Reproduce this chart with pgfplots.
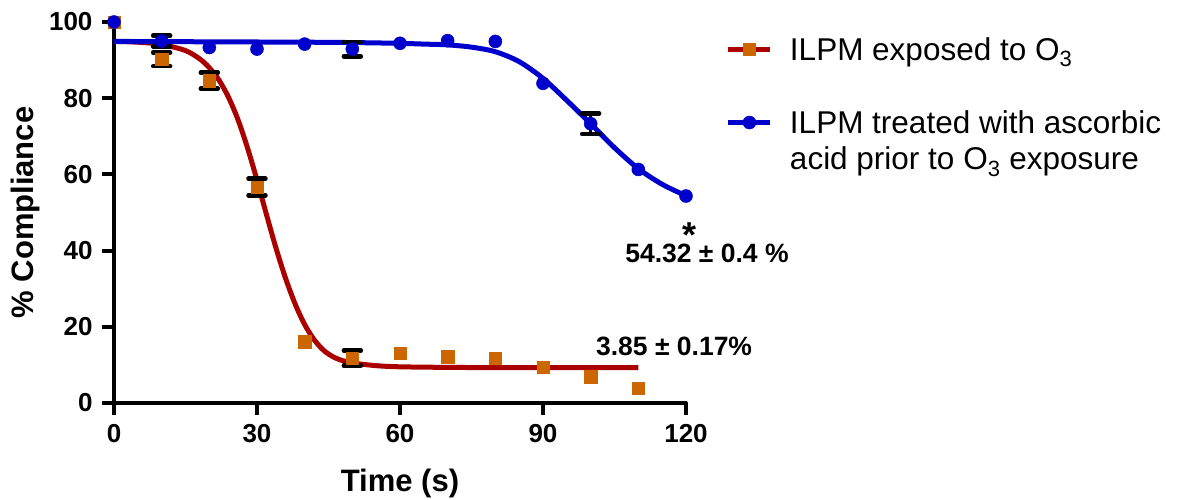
\documentclass[border=0pt]{standalone}
\usepackage{pgfplots}
\usepackage{pgfplotstable}
\pgfplotsset{compat=1.18}
\usepackage{fontspec}
\setmainfont{Liberation Sans}

\definecolor{fitred}{RGB}{170,0,0}
\definecolor{ptorange}{RGB}{204,102,0}
\definecolor{ptblue}{RGB}{0,0,204}

% ILPM exposed to O3: mean compliance (%)
\pgfplotstableread{
x y
0 100
10 90.2
20 84.6
30 56.7
40 16.1
50 11.8
60 13.0
70 12.1
80 11.8
90 9.4
100 6.9
110 3.85
}\exposedpts

% points of that series that carry an error bar
\pgfplotstableread{
x y e
10 90.2 1.8
20 84.6 2.1
30 56.7 2.2
50 11.8 2.0
}\exposederr

% sigmoidal fit, exposed
\pgfplotstableread{
x y
0 94.9
5 94.7
10 94.1
15 92.5
18 90.3
20 88.0
22 84.8
24 80.3
26 74.4
28 67.0
30 58.5
32 49.4
34 40.6
36 32.7
38 26.0
40 20.6
42 16.6
44 13.8
46 12.1
48 11.1
50 10.5
55 9.8
60 9.5
70 9.35
80 9.3
110 9.3
}\exposedfit

% ILPM treated with ascorbic acid prior to O3 exposure
\pgfplotstableread{
x y
0 100
10 95.0
20 93.3
30 92.9
40 94.2
50 92.9
60 94.4
70 95.1
80 94.9
90 83.9
100 73.3
110 61.3
120 54.32
}\treatedpts

\pgfplotstableread{
x y e
10 95.0 1.4
50 92.9 1.9
100 73.3 2.7
}\treatederr

% sigmoidal fit, treated
\pgfplotstableread{
x y
0 94.9
20 94.8
40 94.7
50 94.6
60 94.4
65 94.2
70 94.0
75 93.4
80 92.2
85 89.6
90 85.2
95 79.4
100 73.3
105 67.0
110 61.5
115 57.4
120 54.4
}\treatedfit

\begin{document}
\begin{tikzpicture}
\begin{axis}[
  scale only axis,
  width=572pt, height=381pt,
  xmin=0, xmax=120, ymin=0, ymax=100,
  clip=false,
  axis lines*=left,
  tick pos=left,
  axis line style={line width=4pt, black, line cap=round},
  xtick={0,30,60,90,120},
  ytick={0,20,40,60,80,100},
  tick align=outside,
  major tick length=12pt,
  tick style={line width=4pt, black},
  /pgf/number format/assume math mode=true,
  ticklabel style={font=\fontsize{26}{30}\selectfont\bfseries},
  yticklabel style={xshift=-6pt},
  xticklabel style={yshift=-6pt},
  xlabel={Time (s)},
  ylabel={\% Compliance},
  xlabel style={at={(axis description cs:0.5,-0.231)}, anchor=base,
    font=\fontsize{31}{36}\selectfont\bfseries},
  ylabel style={at={(axis description cs:-0.1407,0.5)}, anchor=base,
    font=\fontsize{31}{36}\selectfont\bfseries},
  legend image code/.code={
    \draw[mark repeat=2,mark phase=2,#1]
      plot coordinates {(0pt,10.5pt) (21pt,10.5pt) (42pt,10.5pt)};
  },
  legend style={draw=none, fill=none,
    at={(1.0699,0.958)}, anchor=north west,
    inner sep=0pt, outer sep=0pt,
    row sep=7.5pt, column sep=17pt,
    nodes={inner sep=0pt, text height=22pt, text depth=7pt,
      font=\fontsize{31.5}{36}\selectfont},
    cells={anchor=base west}},
  error bars/error bar style={line width=3.5pt, black},
  error bars/error mark options={rotate=90, mark size=8.5pt, line width=4.5pt,
    black, line cap=round},
]

% exposed series
\addplot[forget plot, fitred, line width=5pt, smooth] table[x=x,y=y]{\exposedfit};
\addplot[forget plot, only marks, mark=none,
  error bars/.cd, y dir=both, y explicit]
  table[x=x,y=y,y error=e]{\exposederr};
\addplot[forget plot, only marks, mark=square*,
  mark options={ptorange, fill=ptorange, line width=0.5pt, mark size=6.2pt}]
  table[x=x,y=y]{\exposedpts};

% treated series
\addplot[forget plot, ptblue, line width=5pt, smooth] table[x=x,y=y]{\treatedfit};
\addplot[forget plot, only marks, mark=none,
  error bars/.cd, y dir=both, y explicit]
  table[x=x,y=y,y error=e]{\treatederr};
\addplot[forget plot, only marks, mark=*,
  mark options={ptblue, fill=ptblue, line width=0.5pt, mark size=6.5pt}]
  table[x=x,y=y]{\treatedpts};

% legend
\addlegendimage{fitred, line width=5pt, mark=square*,
  mark options={ptorange, fill=ptorange, line width=0.5pt, mark size=6.2pt}}
\addlegendentry{ILPM exposed to O\textsubscript{3}}
\addlegendimage{empty legend}
\addlegendentry{}
\addlegendimage{ptblue, line width=5pt, mark=*,
  mark options={ptblue, fill=ptblue, line width=0.5pt, mark size=6.5pt}}
\addlegendentry{ILPM treated with ascorbic}
\addlegendimage{empty legend}
\addlegendentry{acid prior to O\textsubscript{3} exposure}

% end-point annotations
\node[inner sep=0pt, anchor=center, font=\fontsize{36}{40}\selectfont\bfseries]
  at (axis cs:120.8,46.3) {\raisebox{-15pt}[11pt][0pt]{*}};
\node[inner sep=0pt, anchor=base, font=\fontsize{26.5}{30}\selectfont\bfseries]
  at (axis cs:124.4,36.75) {54.32 ± 0.4 \%};
\node[inner sep=0pt, anchor=base, font=\fontsize{26.5}{30}\selectfont\bfseries]
  at (axis cs:117.5,12.34) {3.85 ± 0.17\%};
\end{axis}
\pgfresetboundingbox
\path (-114pt,-96pt) rectangle (1065pt,403pt);
\end{tikzpicture}
\end{document}
